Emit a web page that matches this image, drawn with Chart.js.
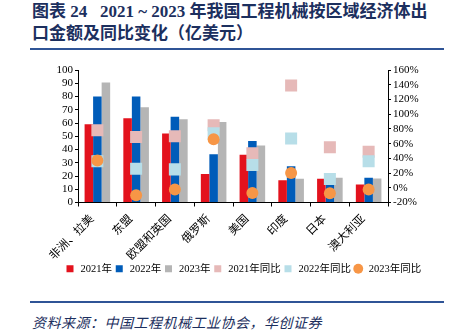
<!DOCTYPE html>
<html>
<head>
<meta charset="utf-8">
<script src="https://cdn.jsdelivr.net/npm/chart.js@4"></script>
<style>
  body { margin: 0; width: 453px; height: 333px; background: #fff; position: relative; overflow: hidden; }
  #title { position: absolute; left: 32px; top: 1px; font: bold 17px "Liberation Serif", "Noto Sans CJK SC"; line-height: 22px; color: #1c2f5e; white-space: nowrap; }
  .rule { position: absolute; left: 30px; width: 414px; height: 2px; background: #2f5496; }
  #source { position: absolute; left: 32px; top: 312px; font: italic 14px "Noto Sans CJK SC"; color: #1c2f5e; letter-spacing: 0.5px; white-space: nowrap; }
  #wrap { position: absolute; left: 33px; top: 58px; width: 420px; height: 226px; }
</style>
</head>
<body>
<div id="title">图表 24&nbsp;&nbsp;&nbsp;2021 ~ 2023 年我国工程机械按区域经济体出<br>口金额及同比变化（亿美元）</div>
<div class="rule" style="top:48px"></div>
<div id="wrap"><canvas id="chart"></canvas></div>
<div class="rule" style="top:301px"></div>
<div id="source">资料来源：中国工程机械工业协会，华创证券</div>
<script>
const regions = ["非洲、拉美", "东盟", "欧盟和英国", "俄罗斯", "美国", "印度", "日本", "澳大利亚"];
const exp2021 = [59, 63.6, 52, 21.5, 36, 16.7, 18, 13.6];
const exp2022 = [80, 80, 64.8, 36.4, 46.5, 27.4, 14, 18.7];
const exp2023 = [90.5, 71.8, 62.8, 60.8, 43, 18, 18.7, 18.2];
const yoy2021 = [78, 69, 70, 85, 47, 139, 55, 49];
const yoy2022 = [36, 26, 25, 74, 31, 67, 12, 36];
const yoy2023 = [37, -10, -2.4, 66, -7, 20, -7.5, -2.4];

document.addEventListener("DOMContentLoaded", function(){
    Chart.defaults.font.family = "'Liberation Serif', 'Noto Sans CJK SC'";
    Chart.defaults.color = "#000";

    function bar(label, data, color) {
        return { type: 'bar', label: label, data: data, backgroundColor: color, borderWidth: 0,
                 yAxisID: 'y', order: 5, barPercentage: 1, categoryPercentage: 0.66 };
    }
    function dots(label, data, color, style, r, order) {
        return { type: 'line', label: label, data: data, showLine: false, yAxisID: 'y1',
                 pointStyle: style, pointRadius: r, pointHoverRadius: r,
                 backgroundColor: color, borderColor: color, pointBorderWidth: 0, borderWidth: 0, order: order };
    }

    new Chart(document.getElementById("chart"), {
        data: {
            labels: regions,
            datasets: [
                bar('2021年', exp2021, '#e3121d'),
                bar('2022年', exp2022, '#005cb9'),
                bar('2023年', exp2023, '#b5b5b5'),
                dots('2021年同比', yoy2021, '#e6b9b8', 'rect', 8.5, 3),
                dots('2022年同比', yoy2022, '#b7dee8', 'rect', 8.5, 2),
                dots('2023年同比', yoy2023, '#f79646', 'circle', 6, 1)
            ]
        },
        options: {
            responsive: true,
            maintainAspectRatio: false,
            animation: false,
            layout: { padding: { top: 12, bottom: 0 } },
            scales: {
                x: {
                    offset: true,
                    grid: { offset: true, drawOnChartArea: false, tickLength: 4, color: '#000' },
                    border: { color: '#000' },
                    ticks: { maxRotation: 45, minRotation: 45, labelOffset: -6, padding: 5,
                             font: { size: 11.5, family: 'Noto Sans CJK SC' } },
                    afterFit: function(s){ s.height = 59; }
                },
                y: {
                    position: 'left', min: 0, max: 100,
                    grid: { drawOnChartArea: false, tickLength: 3, color: '#000' },
                    border: { color: '#000' },
                    ticks: { stepSize: 10, padding: 2, font: { size: 11 }, autoSkip: false },
                    afterFit: function(s){ s.width = 45; }
                },
                y1: {
                    position: 'right', min: -20, max: 160,
                    grid: { drawOnChartArea: false, tickLength: 3, color: '#000' },
                    border: { color: '#000' },
                    ticks: { stepSize: 20, padding: 2, font: { size: 11 }, autoSkip: false,
                             callback: function(v){ return v + '%'; } },
                    afterFit: function(s){ s.width = 65; }
                }
            },
            plugins: {
                tooltip: { enabled: false },
                legend: {
                    position: 'bottom',
                    labels: {
                        usePointStyle: true, boxHeight: 7, padding: 2,
                        font: { size: 10.5 },
                        generateLabels: function(chart) {
                            let items = Chart.defaults.plugins.legend.labels.generateLabels(chart);
                            items.forEach(function(it){
                                it.pointStyle = it.datasetIndex == 5 ? 'circle' : 'rect';
                                it.lineWidth = 0;
                            });
                            items.sort(function(a, b){ return a.datasetIndex - b.datasetIndex; });
                            return items;
                        }
                    }
                }
            }
        }
    });
});
</script>
</body>
</html>
